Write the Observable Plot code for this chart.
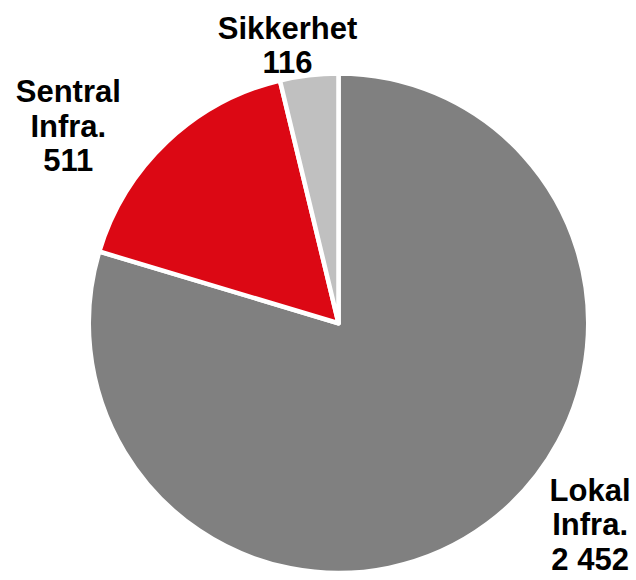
<!DOCTYPE html>
<html><head><meta charset="utf-8">
<script src="https://cdn.jsdelivr.net/npm/d3@7"></script>
<script src="https://cdn.jsdelivr.net/npm/@observablehq/plot@0.6"></script>
<style>body{margin:0;background:#fff}</style>
</head><body><div id="chart"></div>
<script>
const categories = ["Lokal Infra.", "Sentral Infra.", "Sikkerhet"];
const amounts = [2452, 511, 116];
const labels = ["Lokal\nInfra.\n2 452", "Sentral\nInfra.\n511", "Sikkerhet\n116"];
const colors = ["#808080", "#DC0814", "#C0C0C0"];

const color = Plot.scale({color: {type: "ordinal", domain: categories, range: colors}});
const pieData = categories.map((c, i) => ({category: c, value: amounts[i], label: labels[i]}));
const arcs = d3.pie().sort(null).value(d => d.value)(pieData);
const slices = arcs.map(a => ({...a.data, startAngle: a.startAngle, endAngle: a.endAngle, mid: (a.startAngle + a.endAngle) / 2}));

function pieMark(index, scales) {
  const cx = scales.x(0), cy = scales.y(0), r = scales.x(1) - scales.x(0);
  const arc = d3.arc().innerRadius(0).outerRadius(r);
  const g = d3.create("svg:g").attr("transform", `translate(${cx},${cy})`);
  g.selectAll("path").data(slices).join("path")
    .attr("d", d => arc(d))
    .attr("fill", d => color.apply(d.category))
    .attr("stroke", "white")
    .attr("stroke-width", 4.5)
    .attr("stroke-linejoin", "round");
  return g.node();
}

const textStyle = {
  x: d => Math.sin(d.mid),
  y: d => Math.cos(d.mid),
  text: "label",
  fontSize: 31,
  fontWeight: "bold",
  fontFamily: "'Liberation Sans', Arial, sans-serif",
  lineHeight: 1.12,
  fill: "black",
  lineAnchor: "middle",
  textAnchor: "middle"
};
const pick = name => slices.filter(d => d.category === name);

const chart = Plot.plot({
  width: 636,
  height: 580,
  marginLeft: 88.75,
  marginRight: 47.75,
  marginTop: 73.5,
  marginBottom: 7,
  x: {domain: [-1, 1], axis: null},
  y: {domain: [-1, 1], axis: null},
  marks: [
    pieMark,
    Plot.text(pick("Sikkerhet"), {...textStyle, dx: -22, dy: -31}),
    Plot.text(pick("Sentral Infra."), {...textStyle, dx: -99, dy: -17}),
    Plot.text(pick("Lokal Infra."), {...textStyle, dx: 102, dy: 0})
  ]
});
document.getElementById("chart").append(chart);
</script>
</body></html>
